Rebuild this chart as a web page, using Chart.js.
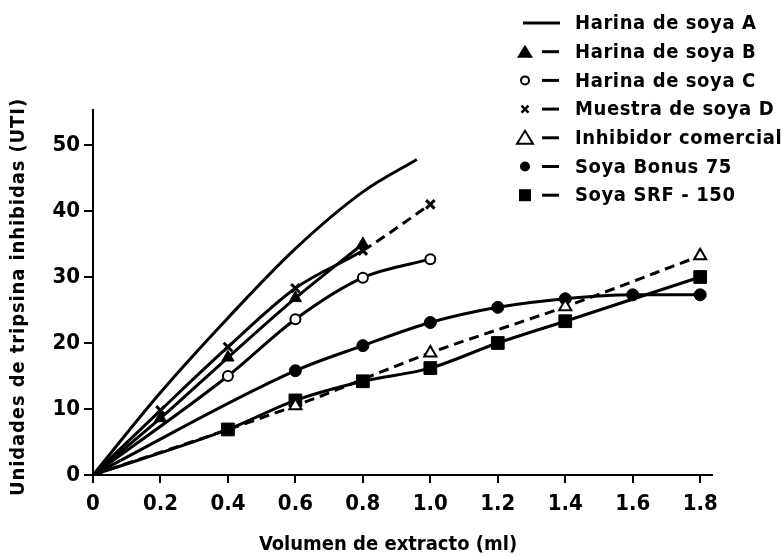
<!DOCTYPE html>
<html lang="es">
<head>
    <meta charset="UTF-8">
    <title>Unidades de tripsina inhibidas</title>
    <script src="https://cdn.jsdelivr.net/npm/chart.js"></script>
    <style>
        body { margin: 0; background: #fff; }
        .wrap { width: 783px; height: 555px; }
    </style>
</head>
<body>
    <div class="wrap"><canvas id="chart" width="783" height="555"></canvas></div>

    <script>
        // values
        const seriesNames = ['Harina de soya A', 'Harina de soya B', 'Harina de soya C',
            'Muestra de soya D', 'Inhibidor comercial', 'Soya Bonus 75', 'Soya SRF - 150'];

        const volA = [0, 0.2, 0.4, 0.6, 0.8, 0.96];
        const harinaA = [0, 12.5, 23.8, 34.3, 42.9, 47.8];

        const volB = [0, 0.2, 0.4, 0.6, 0.8];
        const harinaB = [0, 8.6, 17.8, 26.8, 35.0];

        const volC = [0, 0.4, 0.6, 0.8, 1.0];
        const harinaC = [0, 15.0, 23.6, 29.9, 32.7];

        const volD = [0, 0.2, 0.4, 0.6, 0.8, 1.0];
        const muestraD = [0, 9.8, 19.4, 28.3, 34.0, 41.0];

        const volInh = [0, 0.6, 1.0, 1.4, 1.8];
        const inhibidor = [0, 10.5, 18.5, 25.5, 33.2];

        const volBonus = [0, 0.6, 0.8, 1.0, 1.2, 1.4, 1.6, 1.8];
        const bonus75 = [0, 15.8, 19.6, 23.1, 25.4, 26.7, 27.3, 27.3];

        const volSrf = [0, 0.4, 0.6, 0.8, 1.0, 1.2, 1.4, 1.8];
        const srf150 = [0, 6.9, 11.3, 14.2, 16.2, 20.0, 23.3, 30.0];

        const xTickVals = [0, 0.2, 0.4, 0.6, 0.8, 1.0, 1.2, 1.4, 1.6, 1.8];
        const xTickLabels = ['0', '0.2', '0.4', '0.6', '0.8', '1.0', '1.2', '1.4', '1.6', '1.8'];
        const yTickVals = [0, 10, 20, 30, 40, 50];

        const xTitle = 'Volumen de extracto (ml)';
        const yTitle = 'Unidades de tripsina inhibidas (UTI)';

        const FONT = '"DejaVu Sans Condensed", "DejaVu Sans", sans-serif';

        function pts(xs, ys) {
            return xs.map((x, i) => ({ x: x, y: ys[i] }));
        }
        // no marker on the origin point
        function rad(r) {
            return ctx => ctx.dataIndex === 0 ? 0 : r;
        }

        const datasets = [
            { label: seriesNames[0], data: pts(volA, harinaA), pointRadius: 0, mark: null },
            { label: seriesNames[1], data: pts(volB, harinaB), pointStyle: 'triangle', pointRadius: rad(7),
              pointBackgroundColor: '#000', pointBorderWidth: 1, mark: 'triFill' },
            { label: seriesNames[2], data: pts(volC, harinaC), pointStyle: 'circle', pointRadius: rad(5),
              pointBackgroundColor: '#fff', pointBorderWidth: 2, mark: 'circOpen' },
            { label: seriesNames[3], data: pts(volD, muestraD), pointStyle: 'crossRot', pointRadius: rad(6),
              pointBorderWidth: 3, mark: 'cross',
              segment: { borderDash: ctx => ctx.p0DataIndex >= 4 ? [10, 6] : undefined } },
            { label: seriesNames[4], data: pts(volInh, inhibidor), pointStyle: 'triangle', pointRadius: rad(7),
              pointBackgroundColor: '#fff', pointBorderWidth: 2, borderDash: [10, 6], mark: 'triOpen' },
            { label: seriesNames[5], data: pts(volBonus, bonus75), pointStyle: 'circle', pointRadius: rad(6),
              pointBackgroundColor: '#000', pointBorderWidth: 1, mark: 'circFill' },
            { label: seriesNames[6], data: pts(volSrf, srf150), pointStyle: 'rect', pointRadius: rad(9),
              pointBackgroundColor: '#000', pointBorderWidth: 1, mark: 'rect' }
        ];
        datasets.forEach(d => {
            d.borderColor = '#000';
            d.pointBorderColor = '#000';
            d.borderWidth = 3;
            d.cubicInterpolationMode = 'monotone';
            d.fill = false;
        });

        function drawMark(c, kind, x, y) {
            c.save();
            c.fillStyle = '#000';
            c.strokeStyle = '#000';
            c.lineWidth = 2;
            c.beginPath();
            if (kind === 'triFill' || kind === 'triOpen') {
                c.moveTo(x, y - 7);
                c.lineTo(x + 8, y + 6);
                c.lineTo(x - 8, y + 6);
                c.closePath();
                if (kind === 'triFill') c.fill(); else c.stroke();
            } else if (kind === 'circOpen') {
                c.arc(x, y, 4, 0, Math.PI * 2);
                c.stroke();
            } else if (kind === 'circFill') {
                c.arc(x, y, 5, 0, Math.PI * 2);
                c.fill();
            } else if (kind === 'rect') {
                c.rect(x - 6, y - 6, 12, 12);
                c.fill();
            } else if (kind === 'cross') {
                c.lineWidth = 2.5;
                c.moveTo(x - 3.5, y - 3.5); c.lineTo(x + 3.5, y + 3.5);
                c.moveTo(x + 3.5, y - 3.5); c.lineTo(x - 3.5, y + 3.5);
                c.stroke();
            }
            c.restore();
        }

        // legend in the top right (marker + short dash + name) and the two axis titles
        const textPlugin = {
            id: 'figureText',
            afterDraw(chart) {
                const c = chart.ctx;
                const x0 = 525, y0 = 23, step = 28.7;
                chart.data.datasets.forEach((d, i) => {
                    const y = y0 + i * step;
                    c.save();
                    c.strokeStyle = '#000';
                    c.lineWidth = 3;
                    c.beginPath();
                    if (d.mark) {
                        c.moveTo(542, y); c.lineTo(559, y);
                    } else {
                        c.moveTo(x0 - 2, y); c.lineTo(560, y);
                    }
                    c.stroke();
                    c.restore();
                    if (d.mark) drawMark(c, d.mark, x0, y);
                    c.save();
                    c.fillStyle = '#000';
                    c.font = 'bold 20px ' + FONT;
                    c.letterSpacing = '0.6px';
                    c.textBaseline = 'middle';
                    c.fillText(d.label, 575, y + 1);
                    c.restore();
                });

                c.save();
                c.fillStyle = '#000';
                c.textAlign = 'center';
                c.textBaseline = 'middle';
                c.font = 'bold 20px ' + FONT;
                c.fillText(xTitle, 388, 545);
                c.translate(19, 297);
                c.rotate(-Math.PI / 2);
                c.font = 'bold 20px ' + FONT;
                c.letterSpacing = '0.9px';
                c.fillText(yTitle, 0, 0);
                c.restore();
            }
        };

        new Chart(document.getElementById('chart'), {
            type: 'line',
            data: { datasets: datasets },
            plugins: [textPlugin],
            options: {
                responsive: false,
                animation: false,
                layout: { padding: { top: 110, right: 71, left: 0, bottom: 0 } },
                plugins: { legend: { display: false }, tooltip: { enabled: false } },
                scales: {
                    x: {
                        type: 'linear',
                        min: 0,
                        max: 1.835,
                        afterBuildTicks: s => { s.ticks = xTickVals.map(v => ({ value: v })); },
                        afterFit: s => { s.height = 80; },
                        border: { color: '#000', width: 2 },
                        grid: { drawOnChartArea: false, drawTicks: true, tickLength: 8, color: '#000', lineWidth: 2 },
                        ticks: {
                            color: '#000',
                            padding: 8,
                            maxRotation: 0,
                            font: { family: FONT, size: 22, weight: 'bold' },
                            callback: (v) => xTickLabels[xTickVals.indexOf(Math.round(v * 10) / 10)]
                        }
                    },
                    y: {
                        min: 0,
                        max: 55.3,
                        afterBuildTicks: s => { s.ticks = yTickVals.map(v => ({ value: v })); },
                        afterFit: s => { s.width = 93; },
                        border: { color: '#000', width: 2 },
                        grid: { drawOnChartArea: false, drawTicks: true, tickLength: 9, color: '#000', lineWidth: 2 },
                        ticks: {
                            color: '#000',
                            padding: 4,
                            font: { family: FONT, size: 22, weight: 'bold' }
                        }
                    }
                }
            }
        });
    </script>
</body>
</html>
